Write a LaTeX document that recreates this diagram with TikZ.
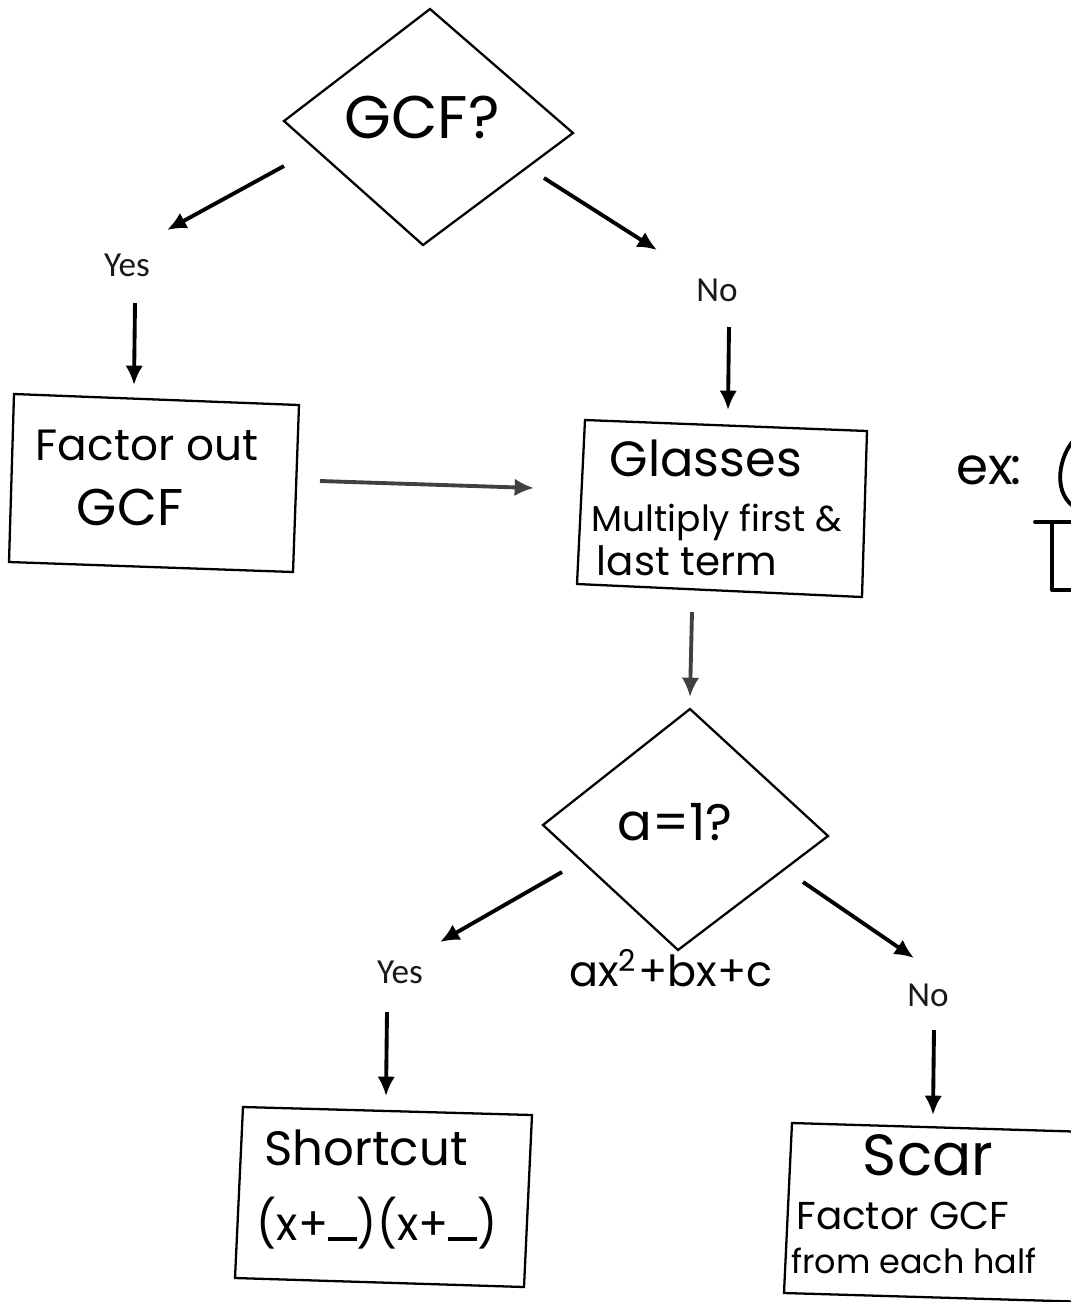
\documentclass[tikz,border=0pt]{standalone}
\usepackage{fontspec}
\setmainfont{Poppins}
\newfontfamily\labelfont{Carlito}
\usetikzlibrary{arrows.meta}
\tikzset{
  outline/.style={draw=black, line width=0.65pt, line join=miter},
  arr/.style={draw=black, line width=1.1pt, -{Latex[length=5.5pt,width=5pt]}},
  grayarr/.style={draw=black!75, line width=1.1pt, -{Latex[length=5.5pt,width=5pt]}},
  hand/.style={inner sep=0pt, text=black},
  lbl/.style={inner sep=0pt, font=\labelfont\fontsize{10}{11}\selectfont, text=black!90},
  bracket/.style={draw=black, line width=1.1pt, line cap=round, line join=round}
}
\newcommand{\fitw}[2]{\resizebox{#1cm}{!}{#2}}
\newcommand{\blankline}{\rule[-0.02em]{0.65em}{0.09em}}
\begin{document}
\begin{tikzpicture}[x=0.01cm,y=-0.01cm]
\useasboundingbox (0,0) rectangle (1071,1302);
\clip (0,0) rectangle (1071,1302);
% ---------- GCF diamond ----------
\coordinate (g1) at (430,9);
\coordinate (g2) at (573,133);
\coordinate (g3) at (423,245);
\coordinate (g4) at (284,121);
\draw[outline] (g1) -- (g2) -- (g3) -- (g4) -- cycle;
\node[hand] (gcf) at (422,117) {\fitw{1.55}{GCF?}};
% ---------- first branch arrows ----------
\coordinate (ayS) at (284,166);
\coordinate (ayE) at (167,230);
\draw[arr] (ayS) -- (ayE);
\coordinate (anS) at (544,178);
\coordinate (anE) at (657,250);
\draw[arr] (anS) -- (anE);
\node[lbl] (yes1) at (127,265) {Yes};
\node[lbl] (no1) at (717,290) {No};
\coordinate (dyS) at (135,303);
\coordinate (dyE) at (134,385);
\draw[arr] (dyS) -- (dyE);
\coordinate (dnS) at (729,327);
\coordinate (dnE) at (728,410);
\draw[arr] (dnS) -- (dnE);
% ---------- Factor out box ----------
\coordinate (f1) at (14,394);
\coordinate (f2) at (299,405);
\coordinate (f3) at (293,572);
\coordinate (f4) at (9,562);
\draw[outline] (f1) -- (f2) -- (f3) -- (f4) -- cycle;
\node[hand] (fo1) at (147,445) {\fitw{2.22}{Factor out}};
\node[hand] (fo2) at (130,507) {\fitw{1.06}{GCF}};
% ---------- arrow Factor -> Glasses ----------
\coordinate (hS) at (320,481);
\coordinate (hE) at (534,488);
\draw[grayarr] (hS) -- (hE);
% ---------- Glasses box ----------
\coordinate (b1) at (585,420);
\coordinate (b2) at (867,431);
\coordinate (b3) at (862,597);
\coordinate (b4) at (577,584);
\draw[outline] (b1) -- (b2) -- (b3) -- (b4) -- cycle;
\node[hand] (gl1) at (706,458) {\fitw{1.92}{Glasses}};
\node[hand] (gl2) at (717,522) {\fitw{2.50}{Multiply first \&}};
\node[hand] (gl3) at (687,561) {\fitw{1.80}{last term}};
% ---------- ex: fragment ----------
\node[hand] (ex) at (989,470) {\fitw{0.65}{ex\kern-0.05em:}};
\coordinate (p1) at (1074,440);
\coordinate (p3) at (1073,506);
\draw[bracket] (p1) .. controls (1060,455) and (1052,490) .. (p3);
\coordinate (q1) at (1035,522);
\coordinate (q2) at (1052,522);
\coordinate (q3) at (1052,590);
\coordinate (q4) at (1075,590);
\coordinate (q5) at (1075,522);
\draw[bracket] (q1) -- (q5);
\draw[bracket] (q2) -- (q3) -- (q4);
% ---------- arrow Glasses -> a=1 ----------
\coordinate (gdS) at (692,612);
\coordinate (gdE) at (690,697);
\draw[grayarr] (gdS) -- (gdE);
% ---------- a=1 diamond ----------
\coordinate (d1) at (690,709);
\coordinate (d2) at (828,836);
\coordinate (d3) at (678,950);
\coordinate (d4) at (543,825);
\draw[outline] (d1) -- (d2) -- (d3) -- (d4) -- cycle;
\node[hand] (aeq) at (675,822) {\fitw{1.15}{a=1?}};
\node[hand] (quad) at (671,968) {\fitw{2.03}{ax\textsuperscript{2}+bx+c}};
% ---------- second branch arrows ----------
\coordinate (byS) at (562,872);
\coordinate (byE) at (440,942);
\draw[arr] (byS) -- (byE);
\coordinate (bnS) at (803,882);
\coordinate (bnE) at (914,958);
\draw[arr] (bnS) -- (bnE);
\node[lbl] (yes2) at (400,972) {Yes};
\node[lbl] (no2) at (928,995) {No};
\coordinate (cyS) at (387,1012);
\coordinate (cyE) at (386,1096);
\draw[arr] (cyS) -- (cyE);
\coordinate (cnS) at (934,1030);
\coordinate (cnE) at (933,1115);
\draw[arr] (cnS) -- (cnE);
% ---------- Shortcut box ----------
\coordinate (s1) at (243,1107);
\coordinate (s2) at (532,1115);
\coordinate (s3) at (524,1287);
\coordinate (s4) at (235,1278);
\draw[outline] (s1) -- (s2) -- (s3) -- (s4) -- cycle;
\node[hand] (sc1) at (366,1148) {\fitw{2.03}{Shortcut}};
\node[hand] (sc2) at (377,1223) {\resizebox*{2.40cm}{0.52cm}{(x+\blankline)(x+\blankline)}};
% ---------- Scar box ----------
\coordinate (r1) at (792,1123);
\coordinate (r2) at (1090,1132);
\coordinate (r3) at (1090,1302);
\coordinate (r4) at (784,1293);
\draw[outline] (r2) -- (r1) -- (r4) -- (r3);
\node[hand] (sr1) at (928,1155) {\fitw{1.30}{Scar}};
\node[hand] (sr2) at (903,1216) {\fitw{2.13}{Factor GCF}};
\node[hand] (sr3) at (914,1261) {\fitw{2.45}{from each half}};
\end{tikzpicture}
\end{document}
